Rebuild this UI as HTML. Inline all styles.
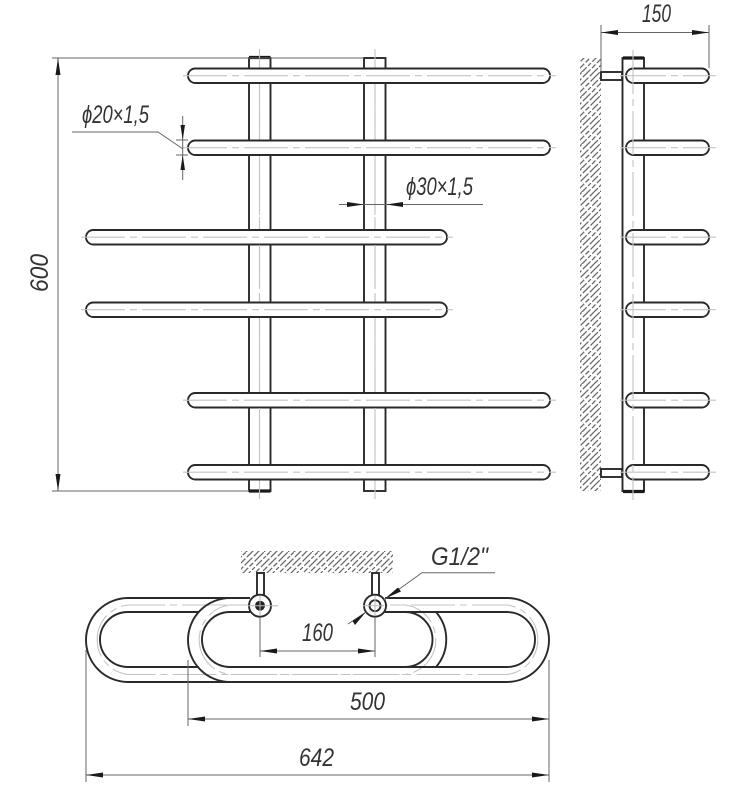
<!DOCTYPE html>
<html>
<head>
<meta charset="utf-8">
<style>
html,body{margin:0;padding:0;background:#fff}
svg{display:block}
text{font-family:"Liberation Sans",sans-serif;font-style:italic;font-size:25px;fill:#333}
.t{fill:#fff;stroke:#2a2a2a;stroke-width:1.9}
.n{fill:none;stroke:#2a2a2a;stroke-width:1.9}
.c{fill:none;stroke:#c4c4c4;stroke-width:1.1;stroke-dasharray:44 5 7 5}
.d{fill:none;stroke:#666;stroke-width:1}
.a{fill:#1a1a1a}
</style>
</head>
<body>
<svg width="755" height="788" viewBox="0 0 755 788" xmlns="http://www.w3.org/2000/svg">
<defs>
<pattern id="h" width="24" height="24" patternUnits="userSpaceOnUse">
<g stroke="#6a6a6a" stroke-width="1.300" fill="none">
<path d="M-1 7L7 -1" stroke-dasharray="4 1.500"/>
<path d="M-1 13L13 -1" stroke-dasharray="9 2"/>
<path d="M-1 19L19 -1" stroke-dasharray="6 2 11 2"/>
<path d="M-1 25L25 -1" stroke-dasharray="13 2 5 2"/>
<path d="M5 25L25 5" stroke-dasharray="8 2 4 2"/>
<path d="M11 25L25 11" stroke-dasharray="5 2"/>
<path d="M17 25L25 17" stroke-dasharray="7 1.500"/>
</g>
</pattern>
</defs>

<!-- Front view: vertical tubes -->
<g>
<rect class="t" x="249" y="58" width="21.500" height="433"/>
<rect class="t" x="364" y="58" width="21.500" height="433"/>
<path d="M249 57.500H270.500M249 491H270.500" stroke="#1a1a1a" stroke-width="3.200" fill="none"/>
</g>
<path class="c" d="M259.500 49V499M375 49V499"/>

<!-- Front view: horizontal tubes -->
<g>
<rect class="t" x="188" y="68.500" width="362" height="14.500" rx="7.250"/>
<rect class="t" x="188" y="140.500" width="362" height="14.500" rx="7.250"/>
<rect class="t" x="86" y="230" width="361" height="14.500" rx="7.250"/>
<rect class="t" x="86" y="302.500" width="361" height="14.500" rx="7.250"/>
<rect class="t" x="188" y="393" width="362" height="14.500" rx="7.250"/>
<rect class="t" x="188" y="465" width="362" height="14.500" rx="7.250"/>
</g>
<path class="c" d="M183 75.700H556M183 147.700H556M81 237.200H453M81 309.700H453M183 400.200H556M183 472.200H556"/>
<path class="c" d="M259.500 84V139M259.500 156V229M259.500 245V301M259.500 318V392M259.500 408V464M375 84V139M375 156V229M375 245V301M375 318V392M375 408V464"/>

<!-- 600 dimension -->
<path class="d" d="M52 58H364M52 491H249M58 58V491"/>
<path class="a" d="M58 58L55.500 75H60.500ZM58 491L55.500 474H60.500Z"/>
<text transform="translate(48,292) rotate(-90)" textLength="38" lengthAdjust="spacingAndGlyphs">600</text>

<!-- D20 dimension -->
<path class="d" d="M72 132H158L183 149M176 140H188M176 155H188M182.700 116V180"/>
<path class="a" d="M182.700 140L180.500 125H185ZM182.700 155L180.500 170H185Z"/>
<text x="82" y="123" textLength="67" lengthAdjust="spacingAndGlyphs">ϕ20×1,5</text>

<!-- D30 dimension -->
<path class="d" d="M339 204.500H483"/>
<path class="a" d="M364 204.500L347 202V207ZM386 204.500L403 202V207Z"/>
<text x="406" y="195" textLength="67" lengthAdjust="spacingAndGlyphs">ϕ30×1,5</text>

<!-- Side view -->
<rect x="580" y="58" width="21" height="433" fill="url(#h)"/>
<rect class="t" x="622.500" y="58" width="21.500" height="433"/>
<path d="M623 58H644M623 491.500H644.500" stroke="#1a1a1a" stroke-width="3.200" fill="none"/>
<rect class="t" x="601" y="72" width="21" height="8" stroke-width="1.600"/>
<rect class="t" x="601" y="469" width="21" height="8" stroke-width="1.600"/>
<g>
<rect class="t" x="626" y="68.500" width="83" height="14.500" rx="7.250"/>
<rect class="t" x="626" y="140.500" width="83" height="14.500" rx="7.250"/>
<rect class="t" x="626" y="230" width="83" height="14.500" rx="7.250"/>
<rect class="t" x="626" y="302.500" width="83" height="14.500" rx="7.250"/>
<rect class="t" x="626" y="393" width="83" height="14.500" rx="7.250"/>
<rect class="t" x="626" y="465" width="83" height="14.500" rx="7.250"/>
</g>
<path d="M620 75.700H716M620 147.700H716M620 237.200H716M620 309.700H716M620 400.200H716M620 472.200H716" fill="none" stroke="#c4c4c4" stroke-width="1.100" stroke-dasharray="46 5 7 5"/>
<path class="c" d="M633 50V500"/>

<!-- 150 dimension -->
<path class="d" d="M601 25V72M709 25V68M601 32.500H709"/>
<path class="a" d="M601 32.500L618 30V35ZM709 32.500L692 30V35Z"/>
<text x="642" y="22" textLength="29" lengthAdjust="spacingAndGlyphs">150</text>

<!-- Bottom view: hatch -->
<rect x="241" y="551" width="152" height="22" fill="url(#h)"/>

<!-- Bottom view: loops -->
<path class="c" d="M226 605H128A35 35 0 0 0 128 674.500H507A35 35 0 0 0 507 605H390"/>
<path class="c" d="M250 605H230A35 35 0 0 0 230 674.500H405A35 35 0 0 0 405 605H375"/>
<path class="n" d="M250 598H128A42 42 0 0 0 128 682H507A42 42 0 0 0 507 598H385"/>
<path class="n" d="M199 612H128A28 27.500 0 0 0 128 667H199"/>
<path class="n" d="M250 612H230A28 27.500 0 0 0 230 667H507A28 27.500 0 0 0 507 612H380"/>
<path class="n" d="M250 598H230A42 42 0 0 0 230 682"/>
<path class="n" d="M380 612H405A27.500 27.500 0 0 1 405 667"/>
<path class="n" d="M436 612A42 42 0 0 1 436 667"/>

<!-- Bottom view: fittings -->
<rect class="t" x="257" y="573" width="7" height="22" stroke-width="1.600"/>
<rect class="t" x="372" y="573" width="7" height="22" stroke-width="1.600"/>
<circle class="t" cx="260" cy="605.700" r="11" stroke-width="2.200"/>
<circle cx="260" cy="605.700" r="5" fill="#222"/>
<circle class="t" cx="375" cy="605.700" r="11" stroke-width="2.200"/>
<circle class="t" cx="375" cy="605.700" r="5.500" stroke-width="2"/>
<path d="M248 605.700H278M363 605.700H384M260 596V616M375 596V616" fill="none" stroke="#b8b8b8" stroke-width="1"/>

<!-- 160 dimension -->
<path class="d" d="M260 617V657M375 617V657M260 651H375"/>
<path class="a" d="M260 651L277 648.500V653.500ZM375 651L358 648.500V653.500Z"/>
<text x="302" y="641" textLength="31" lengthAdjust="spacingAndGlyphs">160</text>

<!-- G1/2 leader -->
<path class="d" d="M495 572.700H422L384 600M366 612L348 624"/>
<path class="a" d="M385 598.500L398 587.500L401 591.500ZM365.500 612.500L352.500 621L355 625Z"/>
<text x="431" y="565" textLength="57" lengthAdjust="spacingAndGlyphs">G1/2"</text>

<!-- 500 dimension -->
<path class="d" d="M188 660V726M549 660V726M188 719H549"/>
<path class="a" d="M188 719L205 716.500V721.500ZM549 719L532 716.500V721.500Z"/>
<text x="350" y="710" textLength="35" lengthAdjust="spacingAndGlyphs">500</text>

<!-- 642 dimension -->
<path class="d" d="M86 650V782M549 726V782M86 775H549"/>
<path class="a" d="M86 775L103 772.500V777.500ZM549 775L532 772.500V777.500Z"/>
<text x="299" y="766" textLength="35" lengthAdjust="spacingAndGlyphs">642</text>
</svg>
</body>
</html>
